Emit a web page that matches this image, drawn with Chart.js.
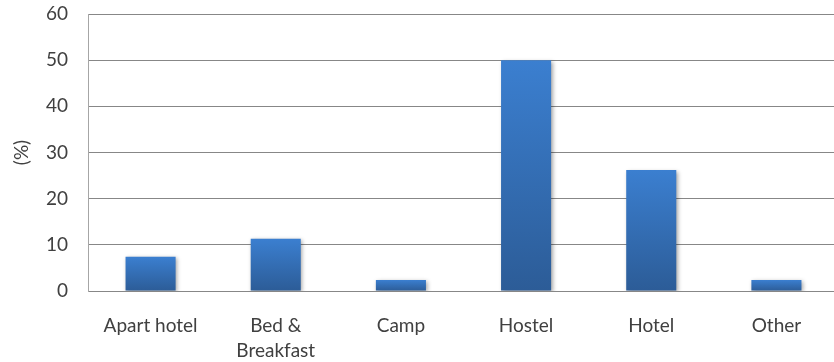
<!DOCTYPE html>
<html>
<head>
<meta charset="utf-8">
<script src="https://cdn.jsdelivr.net/npm/chart.js@4/dist/chart.umd.min.js"></script>
<style>
  html, body { margin: 0; padding: 0; background: #fff; overflow: hidden; }
  #wrap { width: 840px; height: 362px; }
</style>
</head>
<body>
<div id="wrap"><canvas id="accChart" width="840" height="362"></canvas></div>
<script>
// accommodation type share (%)
const categories = ["Apart hotel", ["Bed &", "Breakfast"], "Camp", "Hostel", "Hotel", "Other"];
const shares = [7.4, 11.3, 2.4, 50, 26.2, 2.4];
const yTicks = [0, 10, 20, 30, 40, 50, 60];

const FONT = "Lato, 'Open Sans', sans-serif";
const TEXT = "#404040";

// light-to-dark vertical gradient per bar
function barFill(ctx) {
    const chart = ctx.chart;
    const y = chart.scales.y;
    if (!chart.chartArea || !y || ctx.raw === undefined) return "#3a78c4";
    const top = y.getPixelForValue(ctx.raw);
    const bottom = y.getPixelForValue(0);
    const g = chart.ctx.createLinearGradient(0, top, 0, bottom);
    g.addColorStop(0, "#3b7fd0");
    g.addColorStop(1, "#2c5c97");
    return g;
}

// soft drop shadow under the bars
const barShadow = {
    id: "barShadow",
    beforeDatasetsDraw(chart) {
        const c = chart.ctx;
        c.save();
        c.shadowColor = "rgba(0,0,0,0.35)";
        c.shadowBlur = 4;
        c.shadowOffsetX = 1.5;
        c.shadowOffsetY = 1.5;
    },
    afterDatasetsDraw(chart) {
        chart.ctx.restore();
    }
};

new Chart(document.getElementById("accChart"), {
    type: "bar",
    data: {
        labels: categories,
        datasets: [{
            data: shares,
            backgroundColor: barFill,
            borderWidth: 0,
            categoryPercentage: 1,
            barPercentage: 0.4
        }]
    },
    plugins: [barShadow],
    options: {
        responsive: false,
        animation: false,
        layout: { padding: { top: 14, right: 1, left: 10, bottom: 0 } },
        plugins: {
            legend: { display: false },
            tooltip: { enabled: false }
        },
        scales: {
            x: {
                grid: { display: false, drawTicks: false },
                border: { display: false },
                ticks: {
                    color: TEXT,
                    font: { family: FONT, size: 19, lineHeight: 1.3 },
                    padding: 23,
                    maxRotation: 0,
                    autoSkip: false
                },
                afterFit(scale) { scale.height = 71; }
            },
            y: {
                min: 0,
                max: 60,
                afterBuildTicks(scale) {
                    scale.ticks = yTicks.map(v => ({ value: v }));
                },
                grid: {
                    color: "#878787",
                    lineWidth: 1,
                    drawTicks: false
                },
                border: { display: true, color: "#a6a6a6", width: 1 },
                ticks: {
                    color: TEXT,
                    font: { family: FONT, size: 19 },
                    padding: 20
                },
                title: {
                    display: true,
                    text: "(%)",
                    color: TEXT,
                    font: { family: FONT, size: 19 },
                    padding: 0
                },
                afterFit(scale) {
                    scale.width = 78;
                    scale.paddingTop = 0;
                    scale.paddingBottom = 0;
                }
            }
        }
    }
});
</script>
</body>
</html>
